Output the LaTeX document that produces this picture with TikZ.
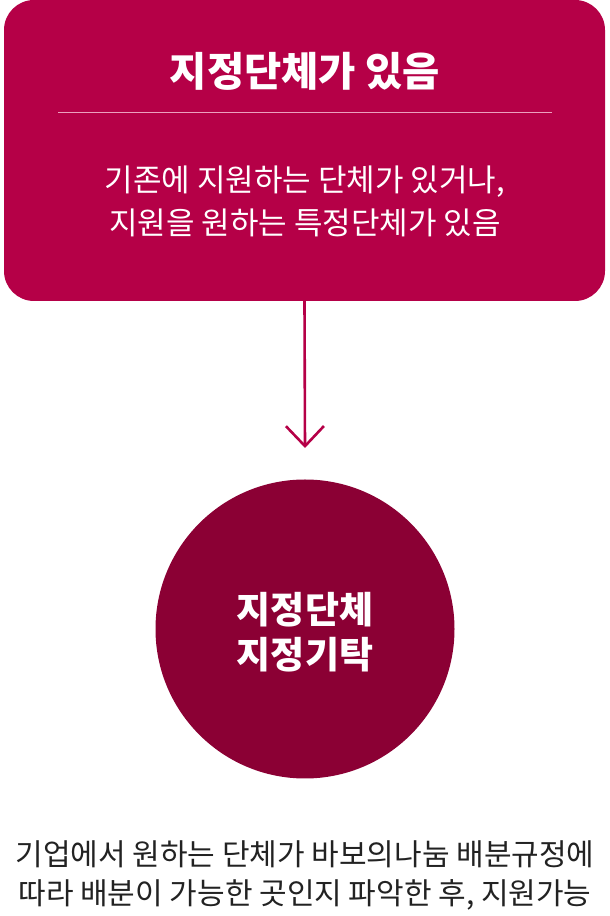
\documentclass[tikz,border=0pt]{standalone}
\usepackage{fontspec}
\setmainfont{Noto Sans CJK KR}
\usepackage{tikz}
\usetikzlibrary{positioning,arrows.meta}

\definecolor{boxred}{RGB}{181,0,71}
\definecolor{circred}{RGB}{139,0,52}
\definecolor{rulepink}{RGB}{236,160,190}
\definecolor{notegray}{RGB}{34,34,34}

\begin{document}
\begin{tikzpicture}[
  x=1pt, y=1pt,
  cond/.style={fill=boxred, rounded corners=30pt, minimum width=601pt,
               minimum height=301pt, inner sep=0pt},
  head/.style={text=white, font=\fontsize{40.5}{48}\selectfont\bfseries},
  desc/.style={text=white, align=center, font=\fontsize{31}{43}\selectfont},
  org/.style={circle, fill=circred, minimum size=299pt, inner sep=0pt},
  orgtext/.style={text=white, align=center, font=\fontsize{37}{45}\selectfont\bfseries},
  note/.style={text=notegray, align=center, font=\fontsize{30}{39}\selectfont},
  flow/.style={-{Straight Barb[length=20pt, width=38pt]}, line width=2.6pt, color=boxred},
]
\useasboundingbox (0,0) rectangle (610,916);

\node[cond] (top) at (304.5,765.5) {};
\node[head] (title) at (305,845) {지정단체가 있음};
\draw[rulepink, line width=1pt] (58,803) -- (552,803);
\node[desc] (text) at (305,714.5) {기존에 지원하는 단체가 있거나,\\지원을 원하는 특정단체가 있음};

\coordinate (tip) at (305,468);
\draw[flow] (top.south) -- (tip);

\node[org] (fund) at (305,287) {};
\node[orgtext] (fundtext) at (305,284) {지정단체\\지정기탁};
\node[note] (foot) at (305,41) {기업에서 원하는 단체가 바보의나눔 배분규정에\\따라 배분이 가능한 곳인지 파악한 후, 지원가능};
\end{tikzpicture}
\end{document}
